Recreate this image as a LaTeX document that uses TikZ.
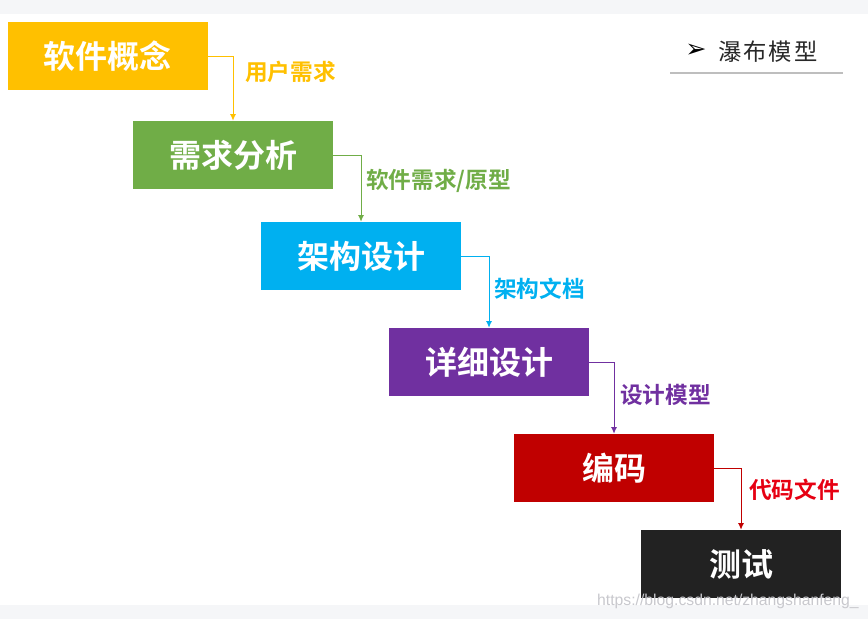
\documentclass[tikz,border=0pt]{standalone}
\usepackage{fontspec}
\newfontfamily\cjkbold[BoldFont={* Bold}]{Noto Sans CJK SC}
\newfontfamily\cjkplain{Noto Sans CJK SC}
\newfontfamily\symfont{DejaVu Sans}
\setmainfont{Liberation Sans}
\usetikzlibrary{arrows.meta}

\definecolor{cYellow}{RGB}{255,192,0}
\definecolor{cGreen}{RGB}{112,173,71}
\definecolor{cBlue}{RGB}{0,176,240}
\definecolor{cPurple}{RGB}{112,48,160}
\definecolor{cRed}{RGB}{192,0,0}
\definecolor{cLabelRed}{RGB}{230,0,18}
\definecolor{cBlack}{RGB}{34,34,34}
\definecolor{cBand}{RGB}{245,246,248}

\tikzset{
  stagebox/.style={fill=#1, text=white, minimum width=150pt, minimum height=51pt,
    inner sep=0pt, font=\cjkbold\bfseries\fontsize{24}{26}\selectfont},
  flowlabel/.style={text=#1, anchor=west, inner sep=0.75pt,
    font=\cjkbold\bfseries\fontsize{17}{19}\selectfont},
  flowline/.style={draw=#1, line width=0.75pt, -{Latex[length=5pt,width=4.5pt]}}
}

\begin{document}
\begin{tikzpicture}[x=0.75pt,y=0.75pt,yscale=-1,xscale=1]
\useasboundingbox (0,0) rectangle (868,619);

%Background bands
\fill [cBand] (0,0) rectangle (868,14) ;
\fill [cBand] (0,605) rectangle (868,619) ;

%Title
\node (titlemark) [anchor=west, inner sep=0pt, font=\symfont\fontsize{19}{21}\selectfont] at (685,51) {➢};
\node (titletext) [anchor=west, inner sep=0.75pt, text={rgb,255:red,40;green,40;blue,40}, font=\cjkplain\fontsize{17.5}{20}\selectfont] at (717,52) {瀑\kern1.5pt布\kern1.5pt模\kern1.5pt型};
\draw [color={rgb, 255:red, 190; green, 190; blue, 190 }, line width=1pt] (670,73) -- (843,73) ;

%Stage boxes
\node (concept) [stagebox=cYellow] at (107.5,56) {软件概念};
\node (require) [stagebox=cGreen] at (233,155) {需求分析};
\node (arch) [stagebox=cBlue] at (361,256) {架构设计};
\node (detail) [stagebox=cPurple] at (489,362) {详细设计};
\node (coding) [stagebox=cRed] at (614,468) {编码};
\node (testing) [stagebox=cBlack] at (741,564) {测试};

%Connectors
\draw [flowline=cYellow] (concept.east) -| (require.north) ;
\draw [flowline=cGreen] (require.east) -| (arch.north) ;
\draw [flowline=cBlue] (arch.east) -| (detail.north) ;
\draw [flowline=cPurple] (detail.east) -| (coding.north) ;
\draw [flowline=cRed] (coding.east) -| (testing.north) ;

% Text Node
\node (userreq) [flowlabel=cYellow] at (244,72) {用户需求};
% Text Node
\node (softreq) [flowlabel=cGreen] at (365,181) {软件需求/原型};
% Text Node
\node (archdoc) [flowlabel=cBlue] at (493,289) {架构文档};
% Text Node
\node (designmodel) [flowlabel=cPurple] at (619,395) {设计模型};
% Text Node
\node (codefile) [flowlabel=cLabelRed] at (748,490) {代码文件};

%Watermark
\node (mark) [anchor=east, inner sep=0pt, text={rgb,255:red,200;green,200;blue,205}, font=\fontsize{11.8}{13}\selectfont] at (859,601) {https://blog.csdn.net/zhangshanfeng\_};

\end{tikzpicture}
\end{document}
